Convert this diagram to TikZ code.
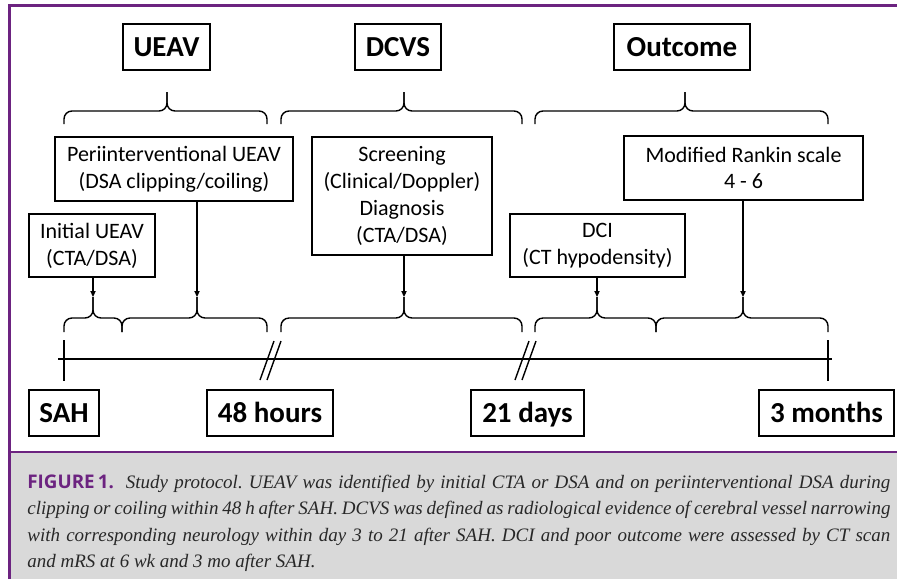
\documentclass[tikz,border=0pt]{standalone}
\usepackage{fontspec}
\setmainfont{Carlito}
\newfontfamily\capserif{Liberation Serif}
\newfontfamily\caplabel{Open Sans}
\usetikzlibrary{arrows.meta, positioning, calc}
\definecolor{framepurple}{RGB}{108,35,128}
\definecolor{capgray}{RGB}{217,217,217}
\definecolor{captext}{RGB}{40,40,40}
\tikzset{
  phase/.style={draw, line width=0.7pt, minimum height=23pt, inner sep=0pt,
    text height=11.3pt, text depth=2pt,
    font=\fontsize{14.5}{17}\selectfont\bfseries},
  infobox/.style={draw, line width=0.7pt, inner sep=0pt, align=center,
    font=\fontsize{11}{13.4}\selectfont},
  bracket/.style={line width=0.7pt, rounded corners=4pt},
  pointer/.style={line width=0.7pt, -{Triangle[length=3pt,width=2.6pt]}},
}
\begin{document}
\begin{tikzpicture}[x=0.5pt, y=-0.5pt]
  \useasboundingbox (0,0) rectangle (897,579);
  % frame and caption panel
  \fill[capgray] (9,452) rectangle (897,579);
  \draw[framepurple, line width=1.5pt] (9,579) -- (9,5) -- (897,5);
  \draw[framepurple, line width=0.75pt] (9,452) -- (897,452);

  % phase headings
  \node[phase, minimum width=43.5pt] (ueav) at (166.5,47) {UEAV};
  \node[phase, minimum width=43pt] (dcvs) at (398,47) {DCVS};
  \node[phase, minimum width=68pt] (outcome) at (682,47) {Outcome};

  % braces below the headings
  \foreach \l/\m/\r in {64/167/267, 281/404/522, 535/685/828} {
    \draw[bracket] (\l,124) -- (\l,111) -- (\m,111) -- (\m,92);
    \draw[bracket] (\r,124) -- (\r,111) -- (\m,111) -- (\m,92);
  }

  % examinations
  \node[infobox, minimum width=119pt, minimum height=32pt] (peri) at (174,169)
    {Periinterventional UEAV\\(DSA clipping/coiling)};
  \node[infobox, minimum width=63pt, minimum height=31.5pt] (init) at (92,245.5)
    {Initial UEAV\\(CTA/DSA)};
  \node[infobox, minimum width=90pt, minimum height=59pt] (screen) at (402,196)
    {Screening\\(Clinical/Doppler)\\Diagnosis\\(CTA/DSA)};
  \node[infobox, minimum width=87.5pt, minimum height=31.5pt] (dci) at (597.5,245.5)
    {DCI\\(CT hypodensity)};
  \node[infobox, minimum width=119.5pt, minimum height=32pt] (rankin) at (743.5,168)
    {Modified Rankin scale\\4 - 6};

  % braces above the time line
  \foreach \l/\m/\r [count=\i] in {64/93/122, 122/197/267, 281/404/522,
                                   535/597/656, 656/743/828} {
    \draw[bracket] (\l,332) -- (\l,318) -- (\m,318) -- (\m,297);
    \draw[bracket] (\r,332) -- (\r,318) -- (\m,318) -- (\m,297);
    \coordinate (tip\i) at (\m,297);
  }
  \draw[pointer] (init.south -| tip1) -- (tip1);
  \draw[pointer] (peri.south -| tip2) -- (tip2);
  \draw[pointer] (screen.south -| tip3) -- (tip3);
  \draw[pointer] (dci.south -| tip4) -- (tip4);
  \draw[pointer] (rankin.south -| tip5) -- (tip5);

  % time line with breaks
  \draw[line width=0.7pt] (58,359) -- (832,359);
  \draw[line width=0.7pt] (64,340) -- (64,381);
  \draw[line width=0.7pt] (828,340) -- (828,381);
  \foreach \x in {260,267,515,522}
    \draw[line width=0.7pt] (\x,380) -- ++(14,-39);

  % time points
  \node[phase, minimum width=35pt] (sah) at (64,413) {SAH};
  \node[phase, minimum width=63pt] (h48) at (270,413) {48 hours};
  \node[phase, minimum width=56.5pt] (d21) at (527.5,413) {21 days};
  \node[phase, minimum width=67.5pt] (m3) at (826.5,413) {3 months};

  % caption
  \node[anchor=north west, inner sep=0pt, text width=431.5pt, align=justify,
        text=captext, font={\capserif\itshape\fontsize{9.5}{13.25}\selectfont\frenchspacing}]
        (caption) at (27,474)
    {\hyphenpenalty=10000{\caplabel\bfseries\upshape\fontsize{9.4}{10}\selectfont\color{framepurple}FIGURE\,1.}\hspace{6pt}Study protocol.
     UEAV was identified by initial CTA or DSA and on periinterventional DSA during\linebreak
     clipping or coiling within 48 h after SAH. DCVS was defined as radiological evidence
     of cerebral vessel narrowing\linebreak
     with corresponding neurology within day 3 to 21 after SAH. DCI and poor outcome
     were assessed by CT scan\linebreak
     and mRS at 6 wk and 3 mo after SAH.};
\end{tikzpicture}
\end{document}
